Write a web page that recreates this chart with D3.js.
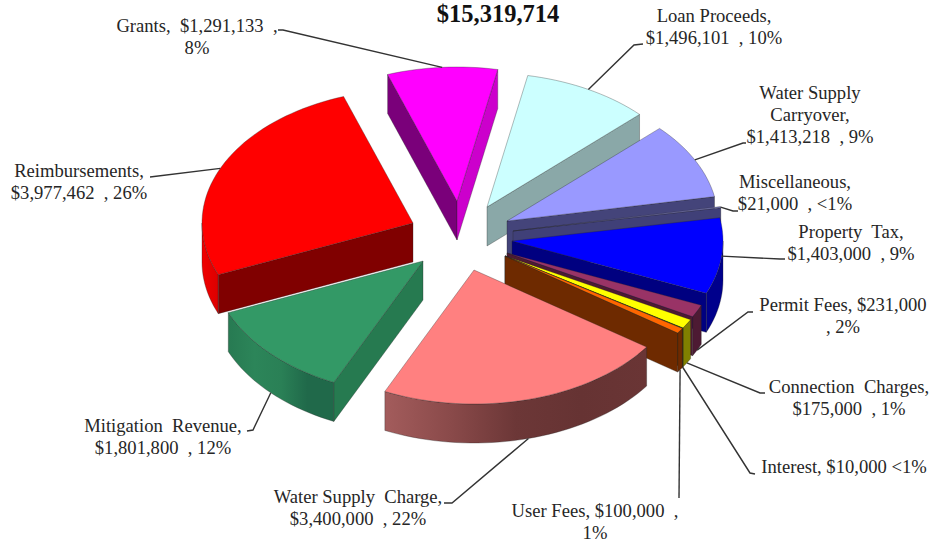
<!doctype html>
<html>
<head>
<script src="https://cdnjs.cloudflare.com/ajax/libs/d3/7.8.5/d3.min.js"></script>
<style>
body { margin: 0; background: #fff; }
text {
  font-family: "Liberation Serif", serif;
  font-size: 18.6px;
  text-anchor: middle;
  fill: #262626;
  white-space: pre;
}
text.total { font-size: 24.5px; font-weight: bold; fill: #111; }
.leader { fill: none; stroke: #333; stroke-width: 1.4px; }
.face { stroke: #222; stroke-opacity: .45; stroke-width: .7px; stroke-linejoin: round; }
</style>
</head>
<body>
<div id="viz"><svg width="930" height="542"></svg></div>
<script>
var total = "$15,319,714";
var categories = ["Grants", "Loan Proceeds", "Water Supply Carryover", "Miscellaneous", "Property Tax", "Permit Fees",
  "Connection Charges", "Interest", "User Fees", "Water Supply Charge", "Mitigation Revenue", "Reimbursements"];
var values = [1291133, 1496101, 1413218, 21000, 1403000, 231000, 175000, 10000, 100000, 3400000, 1801800, 3977462];
var labels = [
  ["Grants,  $1,291,133  ,", "8%"],
  ["Loan Proceeds,", "$1,496,101  , 10%"],
  ["Water Supply", "Carryover,", "$1,413,218  , 9%"],
  ["Miscellaneous,", "$21,000  , <1%"],
  ["Property  Tax,", "$1,403,000  , 9%"],
  ["Permit Fees, $231,000", ", 2%"],
  ["Connection  Charges,", "$175,000  , 1%"],
  ["Interest, $10,000 <1%"],
  ["User Fees, $100,000  ,", "1%"],
  ["Water Supply  Charge,", "$3,400,000  , 22%"],
  ["Mitigation  Revenue,", "$1,801,800  , 12%"],
  ["Reimbursements,", "$3,977,462  , 26%"]
];

// styling, same order as categories
var topColors = ["#ff00ff", "#ccffff", "#9999ff", "#7c7cc0", "#0000ff", "#993366", "#ffff00", "#1e5a1e", "#ff6600", "#ff8080", "#339966", "#ff0000"];
var startWall = ["#7a007a", "#8aa8a8", "#4d4d80", "#404078", "#000080", "#4d1a33", "#808000", "#123812", "#702a00", "#804040", "#267a50", "#800000"];
var endWall = ["#cc00cc", "#8aa8a8", "#44447a", "#404078", "#000080", "#4d1a33", "#808000", "#123812", "#6e2a00", "#804040", "#267a50", "#800000"];
var rimStops = [
  ["#cc00cc"], ["#8aa8a8"], ["#44447a"], ["#404078"], ["#00008c"], ["#4d1a33"], ["#808000"], ["#123812"], ["#6e2a00"],
  ["#a35c5c", "#8a4a4a", "#6c3737", "#663333", "#6a3535"],
  ["#277a52", "#2c8559", "#2a8056", "#20694a", "#20694a"],
  ["#f00000", "#dc0000"]
];

// explode: where each slice's tip sits
var tips = [[457,201],[487,207],[507,221],[513,231],[512,241],[507,253],[505,256],[505,256],[505,256],[474,270],[423,261],[413,223]];
// leader lines: bend + end points, start comes from slice mid angle
var leaderEnds = [
  [[283,30],[278,30]], [[634,45],[643,44]], [[743,143],[746,143]], [[733,211],[738,211]], [[780,259],[785,259]],
  [[748,312],[753,312]], [[760,393],[765,393]], [[750,473],[755,474]], [[679,498]], [[452,503],[444,503]], [[253,430],[247,431]], [[150,177]]
];
var labelPos = [[197,32],[714,22],[810,99],[795,188],[851,238],[843,311],[849,393],[844,473],[595,517],[358,503],[163,432],[79,177]];

var rx = 211, ry = 134, depth = 39;
var deg = Math.PI / 180;
var startAngle = -19.2 * deg;

var svg = d3.select("svg");
var defs = svg.append("defs");

var pie = d3.pie().sort(null).value(d => d).startAngle(startAngle).endAngle(startAngle + 2 * Math.PI);
var slices = pie(values);

// angle clockwise from 12 o'clock to a point on the tilted rim
function pt(i, a, z) {
  return [tips[i][0] + rx * Math.sin(a), tips[i][1] - ry * Math.cos(a) + (z || 0)];
}
var line = d3.line();

function arcPts(i, a0, a1, z) {
  var n = Math.max(2, Math.ceil((a1 - a0) / (2 * deg)));
  return d3.range(n + 1).map(k => pt(i, a0 + (a1 - a0) * k / n, z));
}

var g = svg.append("g");

slices.forEach(function(s, i) {
  var tip = tips[i], a0 = s.startAngle, a1 = s.endAngle;
  var sl = g.append("g").attr("class", "slice");

  // outer rim, only front half shows
  var r0 = Math.max(a0, 90 * deg), r1 = Math.min(a1, 270 * deg);
  if (r1 > r0) {
    var stops = rimStops[i], fill = stops[0];
    if (stops.length > 1) {
      var grad = defs.append("linearGradient").attr("id", "rim" + i);
      stops.forEach((c, k) => grad.append("stop").attr("offset", k / (stops.length - 1)).attr("stop-color", c));
      fill = "url(#rim" + i + ")";
    }
    sl.append("path").attr("class", "face").attr("fill", fill)
      .attr("d", line(arcPts(i, r0, r1, 0).concat(arcPts(i, r0, r1, depth).reverse())) + "Z");
  }

  // radial walls
  if (Math.sin(a0) < 0) {
    var c0 = pt(i, a0);
    sl.append("path").attr("class", "face").attr("fill", startWall[i])
      .attr("d", line([tip, c0, [c0[0], c0[1] + depth], [tip[0], tip[1] + depth]]) + "Z");
  }
  if (Math.sin(a1) > 0) {
    var c1 = pt(i, a1);
    sl.append("path").attr("class", "face").attr("fill", endWall[i])
      .attr("d", line([tip, c1, [c1[0], c1[1] + depth], [tip[0], tip[1] + depth]]) + "Z");
  }

  // top
  sl.append("path").attr("class", "face").attr("fill", topColors[i])
    .attr("d", line([tip].concat(arcPts(i, a0, a1, 0))) + "Z");
});

// leader lines
slices.forEach(function(s, i) {
  var m = (s.startAngle + s.endAngle) / 2;
  var drop = Math.cos(m) < -0.2 ? depth : 0;
  svg.append("path").attr("class", "leader")
    .attr("d", line([pt(i, m, drop)].concat(leaderEnds[i])));
});

// labels
labels.forEach(function(lines, i) {
  var t = svg.append("text").attr("x", labelPos[i][0]).attr("y", labelPos[i][1]);
  lines.forEach(function(l, k) {
    t.append("tspan").attr("x", labelPos[i][0]).attr("dy", k ? 22 : 0).text(l);
  });
});

svg.append("text").attr("class", "total").attr("x", 498).attr("y", 22).text(total);
</script>
</body>
</html>
